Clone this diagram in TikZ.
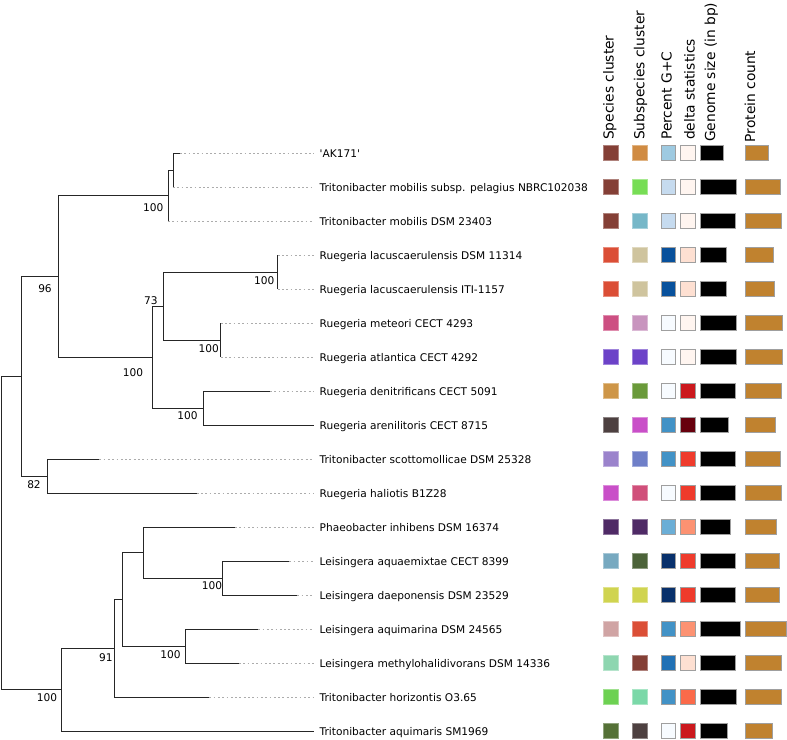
\documentclass[tikz,border=0pt]{standalone}
\usepackage{fontspec}
\setmainfont{DejaVu Sans}[Ligatures=TeXOff]
% cluster colours
\definecolor{spBrown}{HTML}{843F36}
\definecolor{spTan}{HTML}{D08B42}
\definecolor{spTanB}{HTML}{CE9648}
\definecolor{spLime}{HTML}{77DD55}
\definecolor{spTeal}{HTML}{76B7C8}
\definecolor{spSteel}{HTML}{77A9C0}
\definecolor{spVermil}{HTML}{DB4E36}
\definecolor{spBeige}{HTML}{CFC49E}
\definecolor{spRose}{HTML}{CD4F82}
\definecolor{spRoseB}{HTML}{D04F7A}
\definecolor{spMauve}{HTML}{C894BE}
\definecolor{spViolet}{HTML}{6C42C8}
\definecolor{spOlive}{HTML}{6A9A3A}
\definecolor{spUmber}{HTML}{4D4040}
\definecolor{spMagenta}{HTML}{C94FC8}
\definecolor{spLavender}{HTML}{9B83CC}
\definecolor{spPeri}{HTML}{6F7FC8}
\definecolor{spPlum}{HTML}{4F2A66}
\definecolor{spMoss}{HTML}{4C6339}
\definecolor{spChart}{HTML}{D0D450}
\definecolor{spDusty}{HTML}{D0A4A4}
\definecolor{spMint}{HTML}{8ED6B0}
\definecolor{spMintB}{HTML}{7BD8A8}
\definecolor{spGreen}{HTML}{6DD152}
\definecolor{spFern}{HTML}{557137}
% G+C (blues) and delta (reds)
\definecolor{gcA}{HTML}{F7FBFF}
\definecolor{gcB}{HTML}{C6DBEF}
\definecolor{gcC}{HTML}{9ECAE1}
\definecolor{gcD}{HTML}{6BAED6}
\definecolor{gcE}{HTML}{4292C6}
\definecolor{gcF}{HTML}{2171B5}
\definecolor{gcG}{HTML}{08519C}
\definecolor{gcH}{HTML}{08306B}
\definecolor{dlA}{HTML}{FFF5F0}
\definecolor{dlB}{HTML}{FEE0D2}
\definecolor{dlC}{HTML}{FC9272}
\definecolor{dlD}{HTML}{FB6A4A}
\definecolor{dlE}{HTML}{EF3B2C}
\definecolor{dlF}{HTML}{CB181D}
\definecolor{dlG}{HTML}{67000D}
\definecolor{protcol}{HTML}{C0822F}
\tikzset{treefig/.style={x=1pt,y=-1pt},
  treeedge/.style={line width=0.9pt,black!85},
  leafdots/.style={gray!65,line width=0.6pt,dash pattern=on 1.8pt off 2.5pt},
  leaflabel/.style={anchor=west,inner xsep=5.5pt,inner ysep=0pt,text height=10.5pt,text depth=2.5pt,font=\fontsize{10.6}{12}\selectfont},
  support/.style={inner sep=0pt,font=\fontsize{10.6}{12}\selectfont},
  colhead/.style={rotate=90,anchor=base west,inner sep=0pt,font=\fontsize{13.8}{16}\selectfont},
  cellbox/.style={line width=0.6pt,draw=gray!75}}

\begin{document}
\begin{tikzpicture}[treefig]
\useasboundingbox (0,0) rectangle (787,739);

% internal nodes
\coordinate (root) at (1,533);
\coordinate (nA) at (21.7,376.3);
\coordinate (n96) at (58.7,276.5);
\coordinate (nMob) at (168,195.5);
\coordinate (nMobIn) at (173,170);
\coordinate (n100b) at (152.3,357.2);
\coordinate (n73) at (163.3,306);
\coordinate (nLac) at (277.7,272);
\coordinate (nMet) at (220.7,340);
\coordinate (nDen) at (203.3,408);
\coordinate (n82) at (47.7,476);
\coordinate (nB) at (61.7,689.6);
\coordinate (n91) at (114.7,648.1);
\coordinate (nC) at (122,599.3);
\coordinate (nD) at (143.3,552.5);
\coordinate (nF) at (222.3,578);
\coordinate (nE) at (185.7,646);

% leaves
\foreach \i/\txt in {1/{'AK171'},
    2/{Tritonibacter mobilis subsp. pelagius NBRC102038},
    3/{Tritonibacter mobilis DSM 23403},
    4/{Ruegeria lacuscaerulensis DSM 11314},
    5/{Ruegeria lacuscaerulensis ITI-1157},
    6/{Ruegeria meteori CECT 4293},
    7/{Ruegeria atlantica CECT 4292},
    8/{Ruegeria denitrificans CECT 5091},
    9/{Ruegeria arenilitoris CECT 8715},
    10/{Tritonibacter scottomollicae DSM 25328},
    11/{Ruegeria haliotis B1Z28},
    12/{Phaeobacter inhibens DSM 16374},
    13/{Leisingera aquaemixtae CECT 8399},
    14/{Leisingera daeponensis DSM 23529},
    15/{Leisingera aquimarina DSM 24565},
    16/{Leisingera methylohalidivorans DSM 14336},
    17/{Tritonibacter horizontis O3.65},
    18/{Tritonibacter aquimaris SM1969}}
  \node[leaflabel] (l\i) at (314,{153+34*(\i-1)}) {\txt};

\coordinate (t1) at (180,153);
\coordinate (t2) at (173,187);
\coordinate (t3) at (168,221);
\coordinate (t4) at (277.7,255);
\coordinate (t5) at (277.7,289);
\coordinate (t6) at (220.7,323);
\coordinate (t7) at (220.7,357);
\coordinate (t8) at (270,391);
\coordinate (t10) at (99.3,459);
\coordinate (t11) at (196.7,493);
\coordinate (t12) at (235,527);
\coordinate (t13) at (289.3,561);
\coordinate (t14) at (297.3,595);
\coordinate (t15) at (258.3,629);
\coordinate (t16) at (239,663);
\coordinate (t17) at (209.3,697);

\draw[treeedge]
  (root) |- (nA)   (root) |- (nB)
  (nA) |- (n96)    (nA) |- (n82)
  (n96) |- (nMob)  (n96) |- (n100b)
  (nMob) |- (nMobIn)  (nMob) |- (t3)
  (nMobIn) |- (t1)    (nMobIn) |- (t2)
  (n100b) |- (n73)    (n100b) |- (nDen)
  (n73) |- (nLac)     (n73) |- (nMet)
  (nLac) |- (t4)      (nLac) |- (t5)
  (nMet) |- (t6)      (nMet) |- (t7)
  (nDen) |- (t8)      (nDen) |- (l9.west)
  (n82) |- (t10)      (n82) |- (t11)
  (nB) |- (n91)       (nB) |- (l18.west)
  (n91) |- (nC)       (n91) |- (t17)
  (nC) |- (nD)        (nC) |- (nE)
  (nD) |- (t12)       (nD) |- (nF)
  (nF) |- (t13)       (nF) |- (t14)
  (nE) |- (t15)       (nE) |- (t16)
;
\foreach \i in {1,...,8,10,11,...,17}
  \draw[leafdots] (t\i) -- (l\i.west);

% support values
\node[support] (s1) at (153.3,208) {100};
\node[support] (s2) at (45,288.7) {96};
\node[support] (s3) at (264.3,281) {100};
\node[support] (s4) at (150.8,301) {73};
\node[support] (s5) at (208.7,349) {100};
\node[support] (s6) at (133,372.3) {100};
\node[support] (s7) at (187.5,416) {100};
\node[support] (s8) at (34,484.5) {82};
\node[support] (s9) at (212,585.7) {100};
\node[support] (s10) at (105.8,657.5) {91};
\node[support] (s11) at (170.5,655) {100};
\node[support] (s12) at (47,698) {100};

% column heads
\node[colhead] (hSpecies) at (613.5,140) {Species cluster};
\node[colhead] (hSubsp) at (644.4,140) {Subspecies cluster};
\node[colhead] (hGC) at (671.7,140) {Percent G+C};
\node[colhead] (hDelta) at (694.5,140) {delta statistics};
\node[colhead] (hGenome) at (715,142) {Genome size (in bp)};
\node[colhead] (hProt) at (755,142.5) {Protein count};

% metadata cells
\foreach \i/\sp/\ss/\gc/\dl/\gs/\pc in {
    1/spBrown/spTan/gcC/dlA/723.3/768.3,
    2/spBrown/spLime/gcB/dlA/736.7/780.7,
    3/spBrown/spTeal/gcB/dlA/735.7/781.7,
    4/spVermil/spBeige/gcG/dlB/726.3/773.3,
    5/spVermil/spBeige/gcG/dlB/726.3/774.3,
    6/spRose/spMauve/gcA/dlA/736.7/782.7,
    7/spViolet/spViolet/gcA/dlA/736.7/782.7,
    8/spTanB/spOlive/gcA/dlF/735/781.7,
    9/spUmber/spMagenta/gcE/dlG/728.3/775.7,
    10/spLavender/spPeri/gcE/dlE/735.7/780.7,
    11/spMagenta/spRoseB/gcA/dlE/735.7/781.7,
    12/spPlum/spPlum/gcD/dlC/730/776.7,
    13/spSteel/spMoss/gcH/dlE/735/779.3,
    14/spChart/spChart/gcH/dlE/735/779.3,
    15/spDusty/spVermil/gcE/dlC/740.7/786.7,
    16/spMint/spBrown/gcF/dlB/735/781.7,
    17/spGreen/spMintB/gcE/dlD/736.7/781.7,
    18/spFern/spUmber/gcA/dlF/727.3/772.7}{
  \pgfmathsetmacro\ry{153+34*(\i-1)-7.5}
  \filldraw[cellbox,fill=\sp,draw=\sp!65!white] (603.3,\ry) rectangle ++(15,15);
  \filldraw[cellbox,fill=\ss,draw=\ss!65!white] (632,\ry) rectangle ++(15,15);
  \filldraw[cellbox,fill=\gc] (661,\ry) rectangle ++(14.7,15);
  \filldraw[cellbox,fill=\dl] (680.3,\ry) rectangle ++(14.7,15);
  \filldraw[cellbox,fill=black] (700,\ry) rectangle (\gs,\ry+15);
  \filldraw[cellbox,fill=protcol] (745.7,\ry) rectangle (\pc,\ry+15);
}

\end{tikzpicture}
\end{document}
